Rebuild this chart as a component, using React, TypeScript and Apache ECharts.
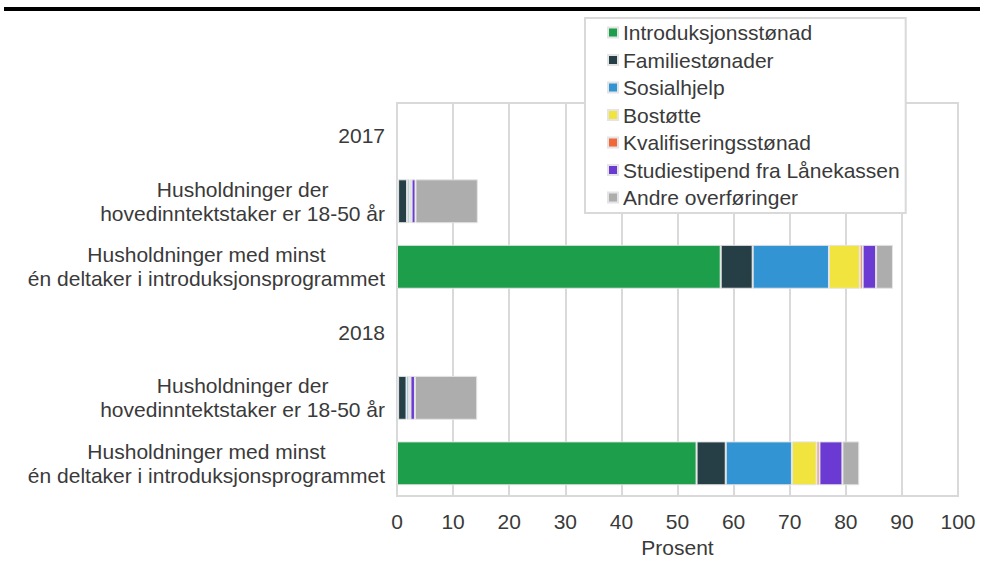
import React, { useEffect, useRef } from "react";
import * as echarts from "echarts";

const categories = [
  "2017",
  "Husholdninger der\nhovedinntektstaker er 18-50 år",
  "Husholdninger med minst\nén deltaker i introduksjonsprogrammet",
  "2018",
  "Husholdninger der\nhovedinntektstaker er 18-50 år",
  "Husholdninger med minst\nén deltaker i introduksjonsprogrammet",
];
const categoryKeys = ["y2017", "a2017", "b2017", "y2018", "a2018", "b2018"];

const seriesNames = [
  "Introduksjonsstønad",
  "Familiestønader",
  "Sosialhjelp",
  "Bostøtte",
  "Kvalifiseringsstønad",
  "Studiestipend fra Lånekassen",
  "Andre overføringer",
];
const seriesColors = ["#1c9e4b", "#263f46", "#3394d3", "#f1e43f", "#f2683a", "#6b3ad2", "#adadad"];

const introduksjonsstonad = [null, 0.2, 57.7, null, 0.2, 53.4];
const familiestonader = [null, 1.6, 5.7, null, 1.5, 5.2];
const sosialhjelp = [null, 0.4, 13.6, null, 0.4, 11.8];
const bostotte = [null, 0.3, 5.5, null, 0.2, 4.4];
const kvalifiseringsstonad = [null, 0.1, 0.5, null, 0.1, 0.5];
const studiestipend = [null, 0.7, 2.4, null, 0.8, 4.1];
const andreOverforinger = [null, 11.1, 3.0, null, 11.1, 3.0];

const seriesValues = [
  introduksjonsstonad,
  familiestonader,
  sosialhjelp,
  bostotte,
  kvalifiseringsstonad,
  studiestipend,
  andreOverforinger,
];

const xTicks = [0, 10, 20, 30, 40, 50, 60, 70, 80, 90, 100];

export default function App() {
  const ref = useRef<HTMLDivElement>(null);
  useEffect(() => {
    if (!ref.current) return;
    const chart = echarts.init(ref.current, null, { renderer: "svg" });
    const font = "'Liberation Sans', Arial, sans-serif";
    const textColor = "#3a3a3a";
    const fs = 21;
    chart.setOption({
      animation: false,
      backgroundColor: "#ffffff",
      textStyle: { fontFamily: font },
      graphic: [
        {
          type: "rect",
          shape: { x: 4, y: 7, width: 976, height: 4 },
          style: { fill: "#000000" },
          silent: true,
        },
      ],
      legend: {
        orient: "vertical",
        left: 585,
        top: 18,
        itemWidth: 10,
        itemHeight: 10,
        itemGap: 6.5,
        icon: "rect",
        padding: [4, 6, 5, 22],
        borderColor: "#d9d9d9",
        borderWidth: 2,
        backgroundColor: "#ffffff",
        textStyle: { fontSize: fs, color: textColor, fontFamily: font },
        data: seriesNames,
        z: 10,
      },
      grid: {
        left: 397,
        width: 561,
        top: 103,
        height: 401,
        show: true,
        borderColor: "#d9d9d9",
        borderWidth: 2,
        containLabel: false,
      },
      xAxis: {
        type: "value",
        min: 0,
        max: 100,
        interval: 10,
        name: "Prosent",
        nameLocation: "middle",
        nameGap: 36,
        nameTextStyle: { fontSize: fs, color: textColor, fontFamily: font },
        axisLine: { show: true, lineStyle: { color: "#d9d9d9", width: 2 } },
        axisTick: { show: false },
        splitLine: { show: true, lineStyle: { color: "#d9d9d9", width: 2 } },
        axisLabel: {
          fontSize: fs,
          color: textColor,
          fontFamily: font,
          margin: 15,
          formatter: (v: number) => (xTicks.includes(v) ? String(v) : ""),
        },
      },
      yAxis: {
        type: "category",
        inverse: true,
        data: categoryKeys,
        axisLine: { show: true, lineStyle: { color: "#d9d9d9", width: 2 } },
        axisTick: { show: false },
        splitLine: { show: false },
        axisLabel: {
          margin: 12,
          align: "right",
          interval: 0,
          formatter: (_v: string, i: number) =>
            categories[i]
              .split("\n")
              .map((l) => `{c|${l}}`)
              .join("\n"),
          rich: {
            c: {
              align: "center",
              fontSize: fs,
              lineHeight: 24,
              color: textColor,
              fontFamily: font,
            },
          },
        },
      },
      series: seriesNames.map((name, k) => ({
        name,
        type: "bar",
        stack: "total",
        barCategoryGap: "33%",
        data: seriesValues[k],
        itemStyle: { color: seriesColors[k], borderColor: "#e4e4e4", borderWidth: 1 },
      })),
    });
    return () => chart.dispose();
  }, []);
  return (
    <div
      ref={ref}
      style={{ position: "fixed", left: 0, top: 0, width: 985, height: 563 }}
    />
  );
}
